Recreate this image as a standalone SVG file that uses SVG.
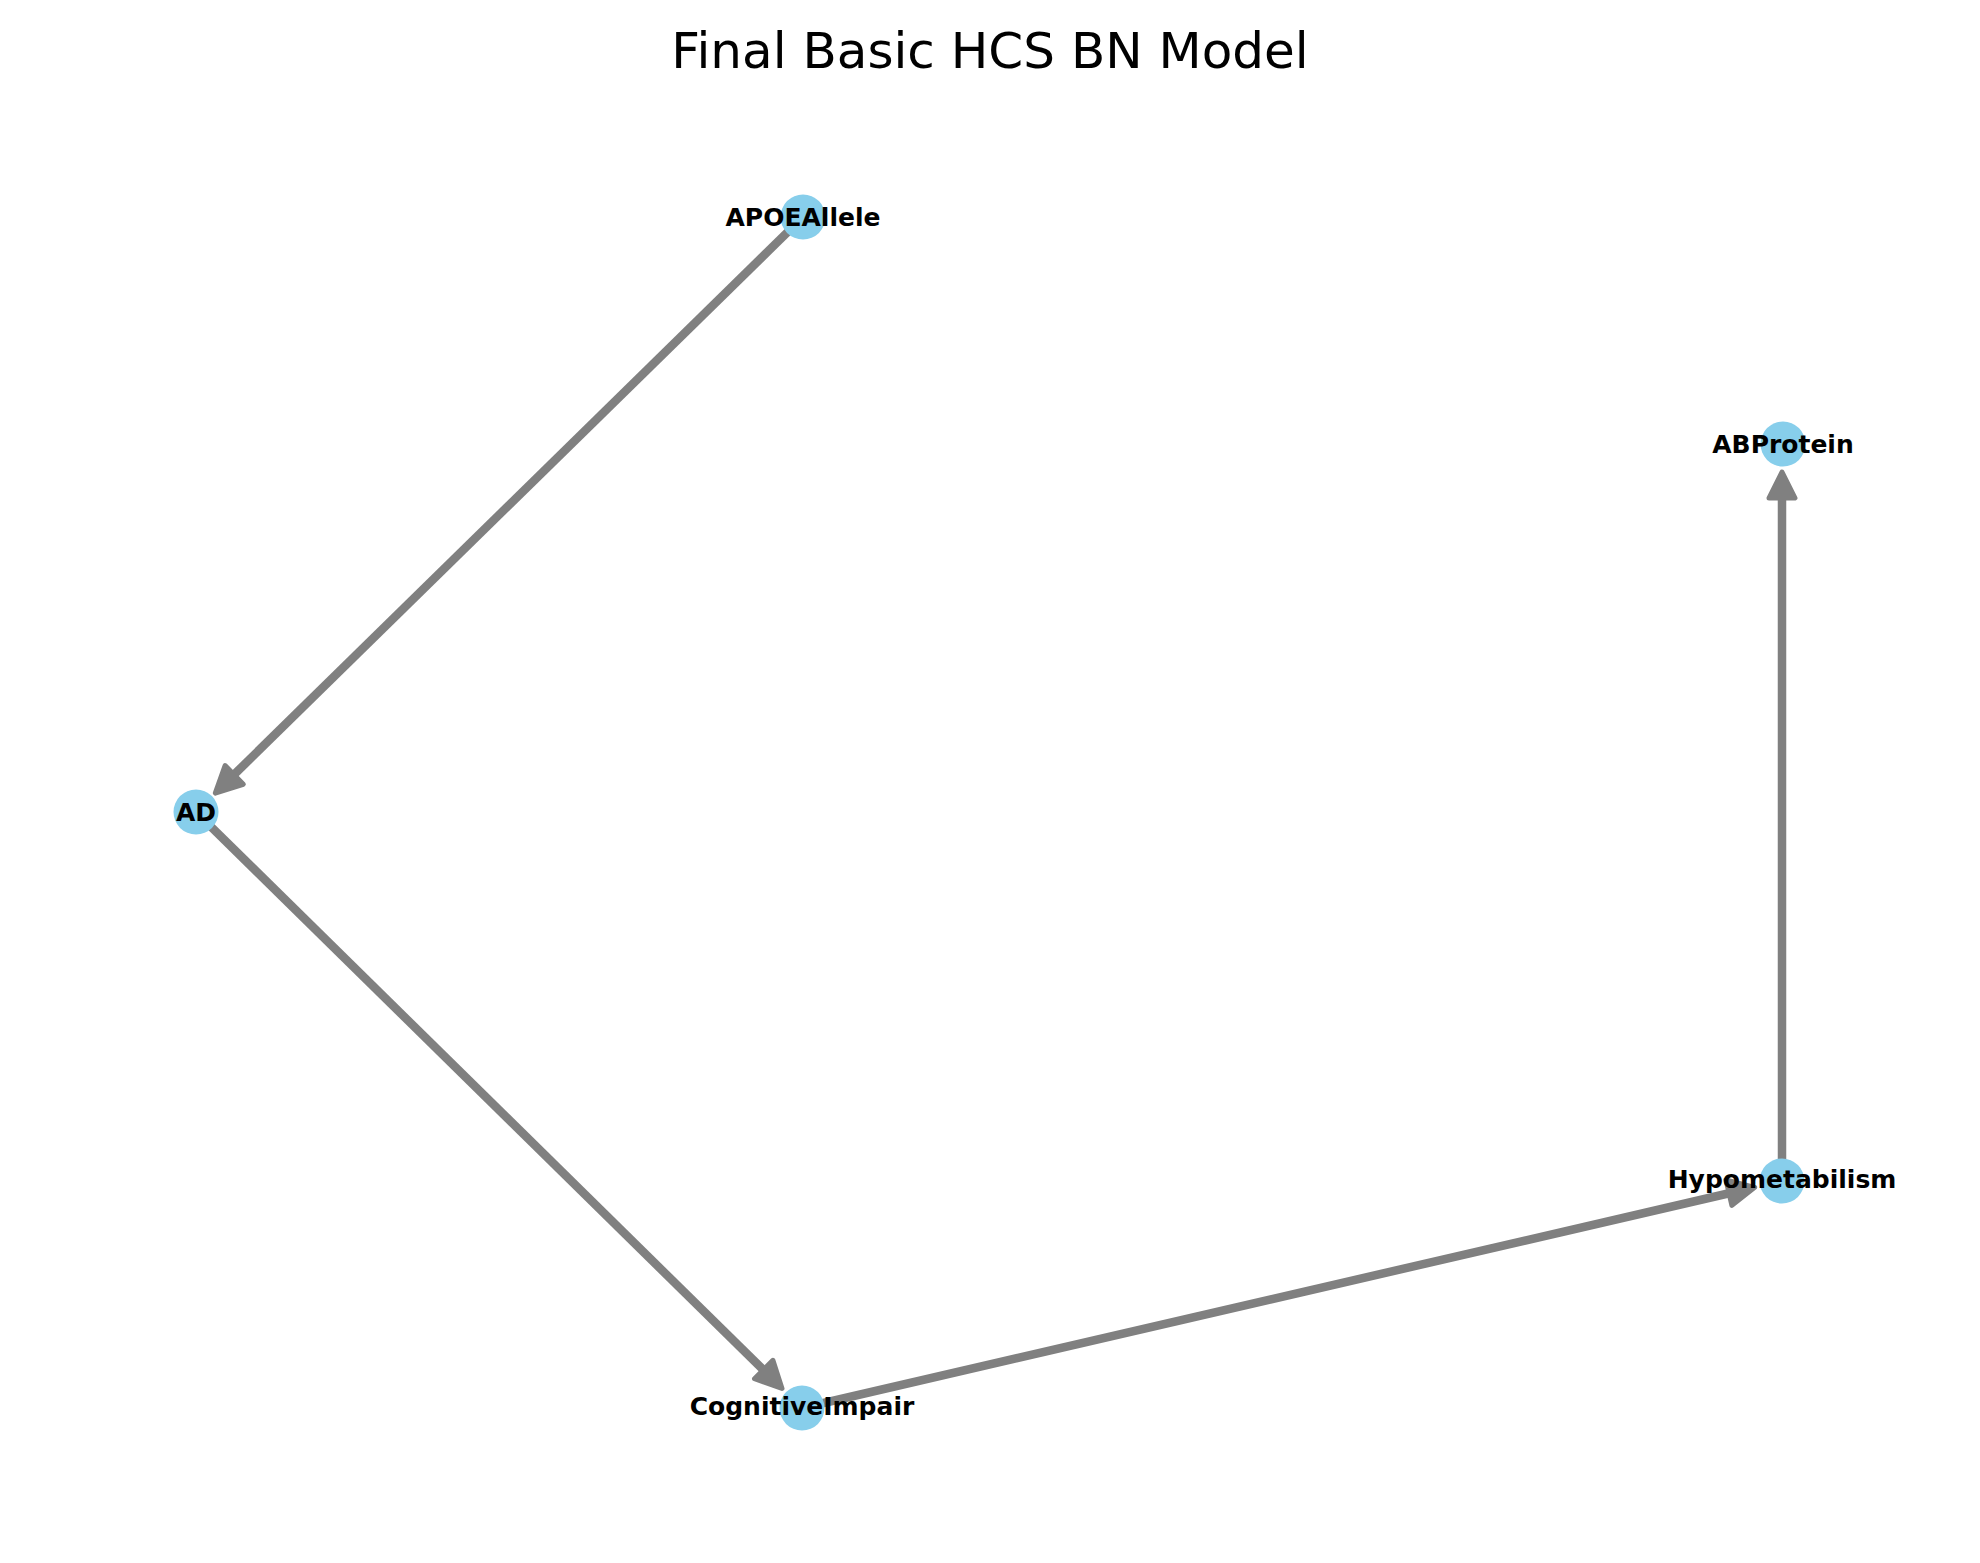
<svg xmlns="http://www.w3.org/2000/svg" width="1980" height="1563" viewBox="0 0 1980 1563">
<style>
.edge{stroke:#808080;stroke-width:8.5;fill:none}
.head{fill:#808080;stroke:#808080;stroke-width:5;stroke-linejoin:round}
.node circle{fill:#87CEEB}
.node text{font-family:"DejaVu Sans",sans-serif;font-weight:bold;font-size:25px;text-anchor:middle;fill:#000}
.title{font-family:"DejaVu Sans",sans-serif;font-size:50px;text-anchor:middle;fill:#000}
</style>
<rect width="1980" height="1563" fill="#fff"/>
<text class="title" x="990" y="68">Final Basic HCS BN Model</text>
<g id="edges">
  <g id="e-apoe-ad">
    <line class="edge" x1="803" y1="217" x2="225.6" y2="782.9"/>
    <polygon class="head" points="215.3,793.1 225.1,765.6 243.3,784.3"/>
  </g>
  <g id="e-ad-cog">
    <line class="edge" x1="196" y1="812" x2="771.4" y2="1377.8"/>
    <polygon class="head" points="782,1388.4 754.5,1378.7 772.9,1360.3"/>
  </g>
  <g id="e-cog-hypo">
    <line class="edge" x1="802" y1="1408" x2="1741" y2="1190.5"/>
    <polygon class="head" points="1754.7,1187.3 1731.9,1205.4 1726,1180"/>
  </g>
  <g id="e-hypo-ab">
    <line class="edge" x1="1782" y1="1181" x2="1782" y2="486"/>
    <polygon class="head" points="1782,472 1795,498 1769,498"/>
  </g>
</g>
<g id="node-APOEAllele" class="node"><circle cx="803" cy="217" r="22.5"/><text x="803" y="226">APOEAllele</text></g>
<g id="node-ABProtein" class="node"><circle cx="1783" cy="444" r="22.5"/><text x="1783" y="453">ABProtein</text></g>
<g id="node-AD" class="node"><circle cx="196" cy="812" r="22.5"/><text x="196" y="821">AD</text></g>
<g id="node-Hypometabilism" class="node"><circle cx="1782" cy="1181" r="22.5"/><text x="1782" y="1188">Hypometabilism</text></g>
<g id="node-CognitiveImpair" class="node"><circle cx="802" cy="1408" r="22.5"/><text x="802" y="1415">CognitiveImpair</text></g>
</svg>
